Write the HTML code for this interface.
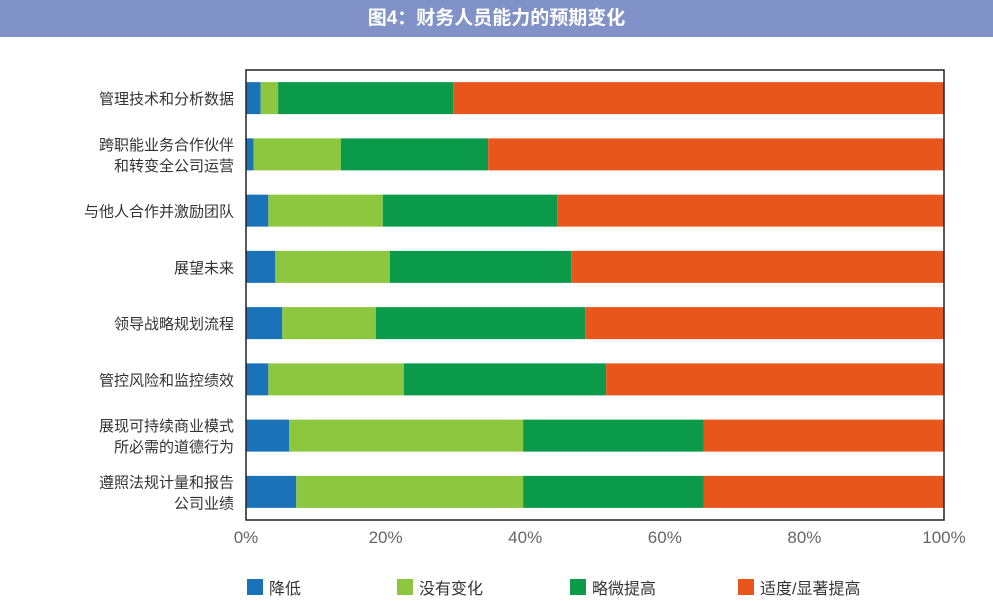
<!DOCTYPE html>
<html><head><meta charset="utf-8">
<style>
body{margin:0;width:993px;height:601px;background:#fff;font-family:"Liberation Sans","Noto Sans CJK SC",sans-serif;overflow:hidden}
#title{position:absolute;left:0;top:0;width:993px;height:37px;background:#8092c8;color:#fff;font-weight:bold;font-size:19px;text-align:center;line-height:37px}
</style></head><body>
<div id="title">图4：财务人员能力的预期变化</div>
<svg id="chart" width="993" height="601" style="position:absolute;left:0;top:0"></svg>
<script>
const categories=[["管理技术和分析数据"],["跨职能业务合作伙伴","和转变全公司运营"],["与他人合作并激励团队"],["展望未来"],["领导战略规划流程"],["管控风险和监控绩效"],["展现可持续商业模式","所必需的道德行为"],["遵照法规计量和报告","公司业绩"]];
const seriesNames=["降低","没有变化","略微提高","适度/显著提高"];
const decrease=[2.1,1.1,3.2,4.2,5.2,3.2,6.2,7.2];
const noChange=[2.5,12.5,16.4,16.4,13.4,19.4,33.5,32.5];
const slight=[25.1,21.1,25.0,26.0,30.0,29.0,25.9,25.9];
const moderate=[70.3,65.3,55.4,53.4,51.4,48.4,34.4,34.4];
const tickLabels=["0%","20%","40%","60%","80%","100%"];
const tickValues=[0,20,40,60,80,100];
const colors=["#1a73b9","#8dc63f","#0b9a4a","#e9561b"];
const svg=document.getElementById('chart');const NS="http://www.w3.org/2000/svg";
const X0=246,X1=944,Y0=70,Y1=520;
const x=v=>X0+(X1-X0)*v/100;
const band=(Y1-Y0)/categories.length;
const y=i=>Y0+band*i+band/2;
function mk(t,a){const e=document.createElementNS(NS,t);for(const k in a)e.setAttribute(k,a[k]);svg.appendChild(e);return e;}
const series=[decrease,noChange,slight,moderate];
categories.forEach((c,i)=>{let acc=0;
 series.forEach((s,j)=>{const r=mk('rect',{x:x(acc),y:y(i)-16,width:x(acc+s[i])-x(acc),height:32,fill:colors[j]});
 
 acc+=s[i];});
 const t=mk('text',{x:234,'text-anchor':'end','font-size':15,fill:'#333'});
 
 
 c.forEach((l,k)=>{const ts=document.createElementNS(NS,'tspan');ts.setAttribute('x',234);ts.setAttribute('y',y(i)+6+(k-(c.length-1)/2)*21);ts.textContent=l;t.appendChild(ts);});
});
const fr=mk('rect',{x:X0,y:Y0,width:X1-X0,height:Y1-Y0,fill:'none',stroke:'#222','stroke-width':1.5});


tickValues.forEach((v,i)=>{const t=mk('text',{x:x(v),y:543,'text-anchor':'middle','font-size':17,fill:'#666'});t.textContent=tickLabels[i];
 
 });
const lx=[247,397,570,738];
seriesNames.forEach((n,j)=>{const r=mk('rect',{x:lx[j],y:579,width:16,height:16,fill:colors[j]});
 
 
 const t=mk('text',{x:lx[j]+22,y:594,'font-size':16,fill:'#333'});t.textContent=n;
 
 });
</script>
</body></html>
